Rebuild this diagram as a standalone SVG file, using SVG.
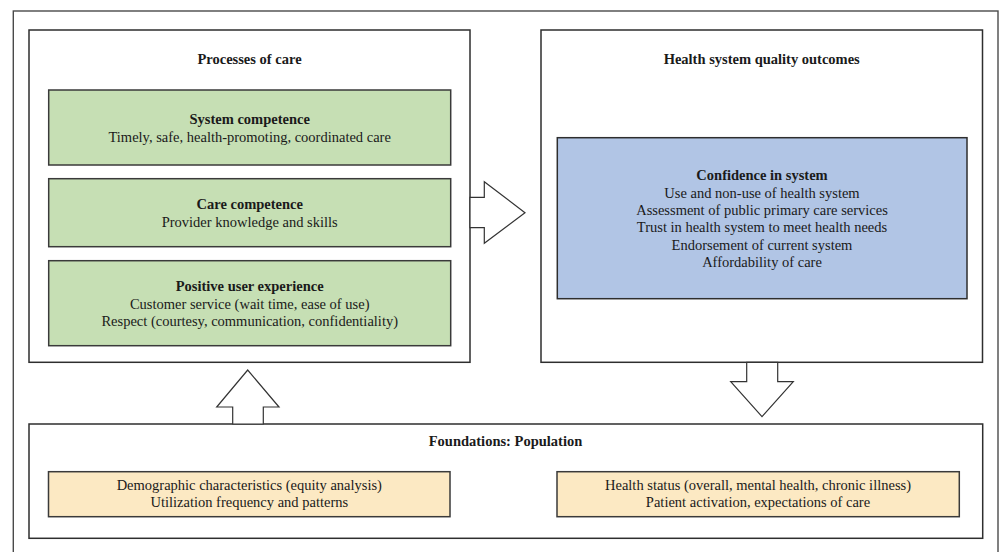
<svg xmlns="http://www.w3.org/2000/svg" width="1000" height="552" viewBox="0 0 1000 552">
  <style>
    text { font-family: "Liberation Serif", "Times New Roman", serif; font-size: 14.5px; fill: #1a1a1a; text-anchor: middle; }
    .b { font-weight: bold; }
    .frame { fill: none; stroke: #4a4a4a; stroke-width: 1.4; }
    .panel { fill: #ffffff; stroke: #2e2e2e; stroke-width: 1.5; }
    .green { fill: #c6dfb4; stroke: #3a3a3a; stroke-width: 1.5; }
    .blue { fill: #b1c5e5; stroke: #2e2e2e; stroke-width: 1.5; }
    .yellow { fill: #fce9c3; stroke: #3a3a3a; stroke-width: 1.5; }
    .arrow { fill: #ffffff; stroke: #333333; stroke-width: 1.2; stroke-linejoin: miter; }
  </style>

  <rect width="1000" height="552" fill="#ffffff"/>
  <!-- surrounding frame, running past the bottom edge -->
  <rect class="frame" x="13.3" y="11" width="984.7" height="560"/>

  <!-- Processes of care -->
  <g id="processes">
    <rect class="panel" x="29" y="30" width="441" height="332.3"/>
    <text class="b" x="249.5" y="63.5">Processes of care</text>
  </g>
  <g id="system-competence">
    <rect class="green" x="48.7" y="90" width="402" height="75"/>
    <text class="b" x="249.7" y="124">System competence</text>
    <text x="249.7" y="141.7">Timely, safe, health-promoting, coordinated care</text>
  </g>
  <g id="care-competence">
    <rect class="green" x="48.7" y="178.7" width="402" height="68"/>
    <text class="b" x="249.7" y="208.5">Care competence</text>
    <text x="249.7" y="226.7">Provider knowledge and skills</text>
  </g>
  <g id="user-experience">
    <rect class="green" x="48.7" y="260.7" width="402" height="85"/>
    <text class="b" x="249.7" y="290.7">Positive user experience</text>
    <text x="249.7" y="309">Customer service (wait time, ease of use)</text>
    <text x="249.7" y="325.8">Respect (courtesy, communication, confidentiality)</text>
  </g>

  <!-- Health system quality outcomes -->
  <g id="outcomes">
    <rect class="panel" x="541" y="30" width="441.5" height="332.3"/>
    <text class="b" x="761.7" y="63.5">Health system quality outcomes</text>
  </g>
  <g id="confidence">
    <rect class="blue" x="557.3" y="137.7" width="409.7" height="161"/>
    <text class="b" x="762" y="180">Confidence in system</text>
    <text x="762" y="198.3">Use and non-use of health system</text>
    <text x="762" y="214.8">Assessment of public primary care services</text>
    <text x="762" y="232">Trust in health system to meet health needs</text>
    <text x="762" y="249.8">Endorsement of current system</text>
    <text x="762" y="266.7">Affordability of care</text>
  </g>

  <!-- Foundations: Population -->
  <g id="foundations">
    <rect class="panel" x="29" y="424" width="953.7" height="114.3"/>
    <text class="b" x="505.5" y="445.5">Foundations: Population</text>
  </g>
  <g id="demographics">
    <rect class="yellow" x="48.5" y="471.7" width="401.5" height="45"/>
    <text x="249.3" y="489.5">Demographic characteristics (equity analysis)</text>
    <text x="249.3" y="507">Utilization frequency and patterns</text>
  </g>
  <g id="health-status">
    <rect class="yellow" x="557" y="471.7" width="402.3" height="45"/>
    <text x="758" y="489.5">Health status (overall, mental health, chronic illness)</text>
    <text x="758" y="507">Patient activation, expectations of care</text>
  </g>

  <!-- block arrows linking the panels -->
  <g id="connectors">
    <polygon class="arrow" points="470,197.3 484.3,197.3 484.3,181.7 525,212.7 484.3,243.3 484.3,227.7 470,227.7"/>
    <polygon class="arrow" points="746.7,362.3 746.7,381.7 730.7,381.7 762,416.7 793.3,381.7 777.7,381.7 777.7,362.3"/>
    <polygon class="arrow" points="232.7,424 232.7,407 216.7,407 247.7,370 279,407 263.3,407 263.3,424"/>
  </g>
</svg>
